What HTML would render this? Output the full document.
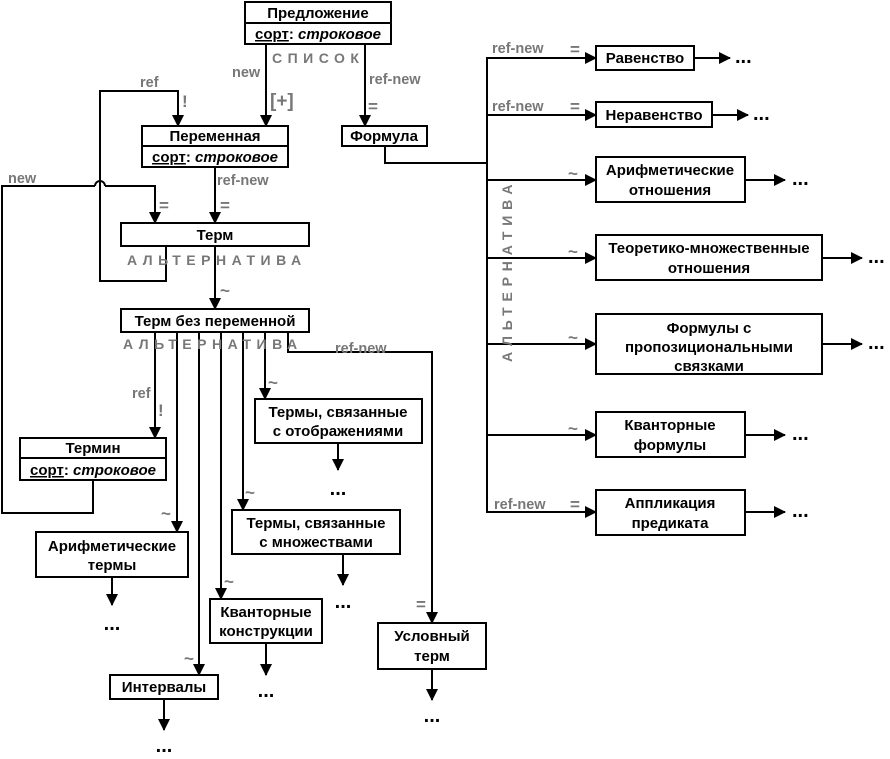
<!DOCTYPE html>
<html><head><meta charset="utf-8"><style>
html,body{margin:0;padding:0;background:#fff}
svg{display:block}
text{font-family:"Liberation Sans",sans-serif}
.b{font-weight:bold;font-size:15px;fill:#000}
.g{font-weight:bold;font-size:14.5px;fill:#777}
.sp{font-weight:bold;font-size:14px;fill:#777;letter-spacing:5.5px}
.d{font-weight:bold;font-size:20px;fill:#000}
</style></head><body>
<svg width="890" height="759" viewBox="0 0 890 759" xmlns="http://www.w3.org/2000/svg">
<defs><marker id="a" markerWidth="12" markerHeight="12" refX="11" refY="6" orient="auto" markerUnits="userSpaceOnUse"><path d="M0,0 L12,6 L0,12 z" fill="#000"/></marker></defs>
<g fill="#fff" stroke="#000" stroke-width="2">
<rect x="245" y="2" width="146" height="42"/><line x1="245" y1="23" x2="391" y2="23"/>
<rect x="142" y="126" width="146" height="41"/><line x1="142" y1="146" x2="288" y2="146"/>
<rect x="342" y="126" width="85" height="20"/>
<rect x="121" y="223" width="188" height="23"/>
<rect x="121" y="309" width="188" height="23"/>
<rect x="20" y="438" width="146" height="42"/><line x1="20" y1="458" x2="166" y2="458"/>
<rect x="36" y="532" width="152" height="45"/>
<rect x="255" y="399" width="167" height="44"/>
<rect x="232" y="510" width="168" height="44"/>
<rect x="210" y="599" width="112" height="44"/>
<rect x="110" y="675" width="108" height="24"/>
<rect x="378" y="623" width="108" height="46"/>
<rect x="596" y="46" width="98" height="24"/>
<rect x="596" y="102" width="116" height="25"/>
<rect x="596" y="157" width="149" height="45"/>
<rect x="596" y="235" width="226" height="45"/>
<rect x="596" y="314" width="226" height="60"/>
<rect x="596" y="412" width="149" height="45"/>
<rect x="596" y="490" width="149" height="45"/>
</g>
<g fill="none" stroke="#000" stroke-width="2">
<line x1="266" y1="44" x2="266" y2="126" marker-end="url(#a)"/>
<line x1="365" y1="44" x2="365" y2="126" marker-end="url(#a)"/>
<polyline points="166,246 166,281 100,281 100,91 178,91 178,126" marker-end="url(#a)"/>
<polyline points="93,480 93,513 2,513 2,186 95,186"/>
<path d="M95,186 A5,5 0 0 1 105,186"/>
<polyline points="105,186 155,186 155,223" marker-end="url(#a)"/>
<line x1="215" y1="167" x2="215" y2="223" marker-end="url(#a)"/>
<line x1="215" y1="246" x2="215" y2="309" marker-end="url(#a)"/>
<line x1="155" y1="332" x2="155" y2="438" marker-end="url(#a)"/>
<line x1="177" y1="332" x2="177" y2="532" marker-end="url(#a)"/>
<line x1="199" y1="332" x2="199" y2="675" marker-end="url(#a)"/>
<line x1="221" y1="332" x2="221" y2="599" marker-end="url(#a)"/>
<line x1="243" y1="332" x2="243" y2="510" marker-end="url(#a)"/>
<line x1="265" y1="332" x2="265" y2="399" marker-end="url(#a)"/>
<polyline points="288,332 288,352 432,352 432,623" marker-end="url(#a)"/>
<line x1="112" y1="577" x2="112" y2="605" marker-end="url(#a)"/>
<line x1="338" y1="443" x2="338" y2="470" marker-end="url(#a)"/>
<line x1="343" y1="554" x2="343" y2="585" marker-end="url(#a)"/>
<line x1="266" y1="643" x2="266" y2="675" marker-end="url(#a)"/>
<line x1="164" y1="699" x2="164" y2="730" marker-end="url(#a)"/>
<line x1="432" y1="669" x2="432" y2="700" marker-end="url(#a)"/>
<polyline points="385,146 385,163 487,163"/>
<line x1="487" y1="57" x2="487" y2="513"/>
<line x1="487" y1="58" x2="596" y2="58" marker-end="url(#a)"/>
<line x1="487" y1="115" x2="596" y2="115" marker-end="url(#a)"/>
<line x1="487" y1="180" x2="596" y2="180" marker-end="url(#a)"/>
<line x1="487" y1="258" x2="596" y2="258" marker-end="url(#a)"/>
<line x1="487" y1="344" x2="596" y2="344" marker-end="url(#a)"/>
<line x1="487" y1="435" x2="596" y2="435" marker-end="url(#a)"/>
<line x1="487" y1="512" x2="596" y2="512" marker-end="url(#a)"/>
<line x1="694" y1="58" x2="730" y2="58" marker-end="url(#a)"/>
<line x1="712" y1="115" x2="748" y2="115" marker-end="url(#a)"/>
<line x1="745" y1="180" x2="785" y2="180" marker-end="url(#a)"/>
<line x1="822" y1="258" x2="862" y2="258" marker-end="url(#a)"/>
<line x1="822" y1="344" x2="862" y2="344" marker-end="url(#a)"/>
<line x1="745" y1="435" x2="785" y2="435" marker-end="url(#a)"/>
<line x1="745" y1="512" x2="785" y2="512" marker-end="url(#a)"/>
</g>
<g class="b" text-anchor="middle">
<text x="318" y="18">Предложение</text>
<text x="318" y="39"><tspan text-decoration="underline">сорт</tspan>: <tspan font-style="italic">строковое</tspan></text>
<text x="215" y="141">Переменная</text>
<text x="215" y="162"><tspan text-decoration="underline">сорт</tspan>: <tspan font-style="italic">строковое</tspan></text>
<text x="384" y="141">Формула</text>
<text x="215" y="240">Терм</text>
<text x="215" y="326">Терм без переменной</text>
<text x="93" y="453">Термин</text>
<text x="93" y="475"><tspan text-decoration="underline">сорт</tspan>: <tspan font-style="italic">строковое</tspan></text>
<text x="112" y="551">Арифметические</text><text x="112" y="570">термы</text>
<text x="338" y="417">Термы, связанные</text><text x="338" y="436">с отображениями</text>
<text x="316" y="528">Термы, связанные</text><text x="316" y="547">с множествами</text>
<text x="266" y="617">Кванторные</text><text x="266" y="636">конструкции</text>
<text x="164" y="692">Интервалы</text>
<text x="432" y="641">Условный</text><text x="432" y="661">терм</text>
<text x="645" y="63">Равенство</text>
<text x="654" y="120">Неравенство</text>
<text x="670" y="175">Арифметические</text><text x="670" y="195">отношения</text>
<text x="709" y="253">Теоретико-множественные</text><text x="709" y="273">отношения</text>
<text x="709" y="333">Формулы с</text><text x="709" y="352">пропозициональными</text><text x="709" y="371">связками</text>
<text x="670" y="430">Кванторные</text><text x="670" y="450">формулы</text>
<text x="670" y="508">Аппликация</text><text x="670" y="528">предиката</text>
</g>
<g class="d" text-anchor="middle">
<text x="112" y="630">...</text><text x="338" y="495">...</text><text x="343" y="608">...</text>
<text x="266" y="697">...</text><text x="164" y="752">...</text><text x="432" y="722">...</text>
</g>
<g class="d">
<text x="735" y="63">...</text><text x="753" y="120">...</text><text x="792" y="185">...</text>
<text x="868" y="263">...</text><text x="868" y="349">...</text><text x="792" y="440">...</text><text x="792" y="517">...</text>
</g>
<g class="g">
<text x="232" y="77">new</text>
<text x="369" y="84">ref-new</text>
<text x="140" y="87">ref</text>
<text x="8" y="183">new</text>
<text x="217" y="185">ref-new</text>
<text x="335" y="353">ref-new</text>
<text x="132" y="398">ref</text>
<text x="492" y="53">ref-new</text>
<text x="492" y="111">ref-new</text>
<text x="494" y="509">ref-new</text>
</g>
<g font-weight="bold" font-size="17" fill="#777" style="font-family:'Liberation Sans',sans-serif">
<text x="270" y="107" font-size="19">[+]</text>
<text x="182" y="107">!</text>
<text x="158" y="416">!</text>
<text x="368" y="112">=</text>
<text x="159" y="211">=</text>
<text x="220" y="211">=</text>
<text x="416" y="610">=</text>
<text x="570" y="55">=</text>
<text x="570" y="112">=</text>
<text x="570" y="510">=</text>
<text x="220" y="296">~</text>
<text x="568" y="179">~</text><text x="568" y="257">~</text><text x="568" y="343">~</text><text x="568" y="434">~</text>
<text x="161" y="519">~</text><text x="184" y="664">~</text><text x="224" y="587">~</text><text x="245" y="498">~</text><text x="268" y="388">~</text>
</g>
<text class="sp" x="272" y="63">СПИСОК</text>
<text class="sp" x="127" y="265">АЛЬТЕРНАТИВА</text>
<text class="sp" x="123" y="349">АЛЬТЕРНАТИВА</text>
<text class="sp" transform="translate(512,362) rotate(-90)" x="0" y="0" style="letter-spacing:5.8px">АЛЬТЕРНАТИВА</text>
</svg>
</body></html>
